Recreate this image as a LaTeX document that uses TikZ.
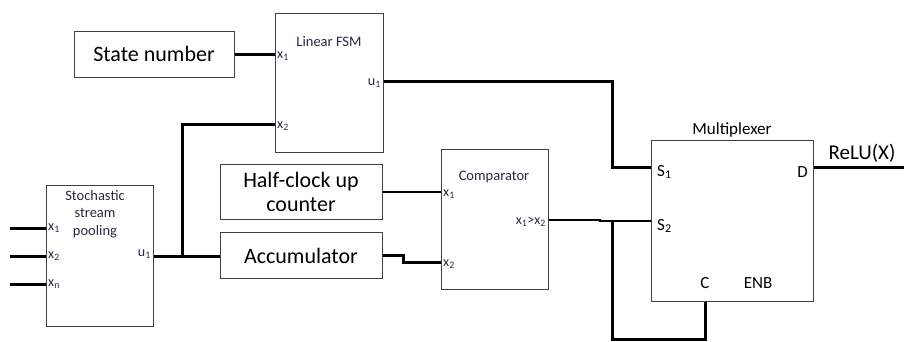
\documentclass[tikz,border=0pt]{standalone}
\usepackage{fontspec}
\setmainfont{Carlito}
\newcommand\fs[1]{\fontsize{#1}{#1}\selectfont}
\definecolor{lbl}{HTML}{27283F}
\begin{document}
\begin{tikzpicture}[x=1pt,y=-1pt,
  blk/.style={draw=black!75,line width=1pt,inner sep=0pt,anchor=north west},
  wire/.style={line width=3pt,black},
  twire/.style={line width=2.4pt,black},
  pin/.style={inner sep=0pt,font=\fs{14},text=lbl},
  big/.style={inner sep=0pt,font=\fs{22}},
  mid/.style={inner sep=0pt,font=\fs{17}},
  sml/.style={inner sep=0pt,font=\fs{14.5},text=lbl}]
\useasboundingbox (0,0) rectangle (904,341);
% blocks
\node[blk,minimum width=160pt,minimum height=46pt] (sn) at (74,31) {};
\node[big] (snt) at (154,54) {State number};
\node[blk,minimum width=108pt,minimum height=139pt] (fsm) at (275,13) {};
\node[sml] (fsmt) at (329,42) {Linear FSM};
\node[blk,minimum width=107pt,minimum height=141pt] (pool) at (46,185) {};
\node[sml,align=center] (poolt) at (95,214) {Stochastic\\[3pt]stream\\[3pt]pooling};
\node[blk,minimum width=162pt,minimum height=55pt] (hc) at (220,164) {};
\node[big,align=center] (hct) at (301,192) {Half-clock up\\[2pt]counter};
\node[blk,minimum width=162pt,minimum height=46pt] (acc) at (220,232) {};
\node[big] (acct) at (301,256) {Accumulator};
\node[blk,minimum width=107pt,minimum height=140pt] (cmp) at (441,149) {};
\node[sml] (cmpt) at (494,177) {Comparator};
\node[blk,minimum width=162pt,minimum height=161pt] (mux) at (651,140) {};
\node[mid] (muxt) at (732,130) {Multiplexer};
% pin labels
\node[pin,anchor=west] (p1) at (48,228) {x\textsubscript{1}};
\node[pin,anchor=west] (p2) at (48,256) {x\textsubscript{2}};
\node[pin,anchor=west] (pn) at (48,284) {x\textsubscript{n}};
\node[pin,anchor=east] (pu) at (151,254) {u\textsubscript{1}};
\node[pin,anchor=west] (f1) at (277,56) {x\textsubscript{1}};
\node[pin,anchor=west] (f2) at (277,126) {x\textsubscript{2}};
\node[pin,anchor=east] (fu) at (381,83) {u\textsubscript{1}};
\node[pin,anchor=west] (c1) at (443,194) {x\textsubscript{1}};
\node[pin,anchor=west] (c2) at (443,264) {x\textsubscript{2}};
\node[pin,anchor=east] (co) at (546,222) {x\textsubscript{1}>x\textsubscript{2}};
\node[mid,anchor=west] (s1) at (657,172) {S\textsubscript{1}};
\node[mid,anchor=west] (s2) at (657,226) {S\textsubscript{2}};
\node[mid,anchor=east] (d) at (808,172) {D};
\node[mid] (c) at (705,283) {C};
\node[mid] (enb) at (758,283) {ENB};
\node[font=\fs{21},inner sep=0pt] (relu) at (862,153) {ReLU(X)};
% coordinates
\coordinate (in1) at (10,228);
\coordinate (in2) at (10,256);
\coordinate (in3) at (10,284);
\coordinate (j1) at (182,256);
\coordinate (j2) at (612,221);
\coordinate (out) at (904,167);
% wires
\draw[wire] (in1) -- (pool.west |- in1);
\draw[wire] (in2) -- (pool.west |- in2);
\draw[wire] (in3) -- (pool.west |- in3);
\draw[wire] (pool.east |- j1) -- (acc.west |- j1);
\draw[wire] (j1) -- (182,124) -- (fsm.west |- 0,124);
\draw[wire] (sn.east |- 0,54) -- (fsm.west |- 0,54);
\draw[wire] (fsm.east |- 0,81) -- (612,81) -- (612,167) -- (mux.west |- 0,167);
\draw[twire] (hc.east |- 0,192) -- (cmp.west |- 0,192);
\draw[wire] (acc.east |- 0,255) -- (403,255) -- (403,262) -- (cmp.west |- 0,262);
\draw[twire] (cmp.east |- 0,220) -- (600,220) -- (600,221) -- (mux.west |- j2);
\draw[wire] (j2) -- (612,339) -- (705,339) -- (mux.south -| 705,0);
\draw[wire] (mux.east |- out) -- (out);
\end{tikzpicture}
\end{document}
